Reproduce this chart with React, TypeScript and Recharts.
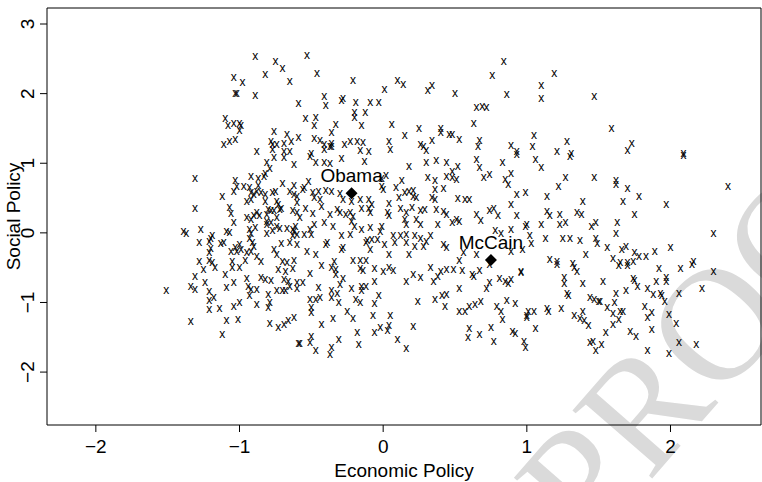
import React from 'react';
import {
  ScatterChart,
  Scatter,
  XAxis,
  YAxis,
  ReferenceArea,
  Label,
} from 'recharts';

const FONT = '"Liberation Sans", Arial, Helvetica, sans-serif';

// respondents as [economic, social]
const northWest: [number, number][] = [
  [-0.89, 2.53], [-0.75, 2.45], [-0.70, 2.35], [-0.82, 2.27], [-1.04, 2.23], [-0.98, 2.15],
  [-0.65, 2.17], [-1.03, 1.99], [-1.02, 1.99], [-0.89, 1.97], [-0.59, 1.85], [-1.10, 1.64],
  [-1.04, 1.56], [-1.08, 1.54], [-1.00, 1.56], [-0.99, 1.54], [-1.00, 1.47], [-1.11, 1.27],
  [-1.07, 1.30], [-1.03, 1.34], [-0.76, 1.45], [-0.67, 1.40], [-0.59, 1.37], [-0.64, 1.30],
  [-0.69, 1.28], [-0.78, 1.31], [-0.77, 1.27], [-0.74, 1.27], [-0.88, 1.17], [-0.77, 1.19],
  [-0.69, 1.17], [-0.65, 1.17],
];

const northCentre: [number, number][] = [
  [-0.53, 2.54], [-0.46, 2.28], [-0.21, 2.19], [0.01, 2.06], [0.10, 2.18], [0.14, 2.13],
  [0.31, 2.04], [0.34, 2.11], [-0.41, 1.95], [-0.40, 1.82], [-0.29, 1.89], [-0.28, 1.93],
  [-0.19, 1.87], [-0.09, 1.87], [-0.03, 1.86], [-0.20, 1.72], [-0.20, 1.65], [-0.125, 1.72],
  [-0.54, 1.64], [-0.47, 1.65], [-0.48, 1.54], [-0.33, 1.55], [-0.36, 1.43], [-0.15, 1.53],
  [0.06, 1.55], [0.25, 1.50], [0.40, 1.50], [0.40, 1.43], [0.15, 1.39], [0.34, 1.32],
  [0.46, 1.40], [-0.48, 1.35], [-0.44, 1.32], [-0.41, 1.26], [-0.36, 1.28], [-0.37, 1.23],
  [-0.41, 1.19], [-0.36, 1.24], [-0.27, 1.26], [-0.23, 1.31], [-0.18, 1.30], [-0.14, 1.29],
  [-0.16, 1.18], [-0.10, 1.17], [0.04, 1.31], [0.05, 1.19], [0.26, 1.26], [0.28, 1.24],
  [0.30, 1.18], [-0.50, 1.14],
];

const northEast: [number, number][] = [
  [0.84, 2.46], [0.76, 2.26], [1.19, 2.29], [1.10, 2.11], [1.10, 1.92], [0.86, 1.98],
  [1.47, 1.96], [0.50, 1.99], [0.65, 1.80], [0.69, 1.81], [0.72, 1.80], [0.63, 1.56],
  [0.48, 1.41], [0.53, 1.34], [0.67, 1.32], [0.66, 1.23], [0.89, 1.25], [0.93, 1.17],
  [1.05, 1.39], [1.04, 1.23], [1.28, 1.31], [1.21, 1.17], [1.31, 1.14],
  [1.59, 1.49], [1.73, 1.28], [1.70, 1.18], [2.09, 1.14],
];

const west: [number, number][] = [
  [-0.81, 1.01], [-0.76, 1.08], [-0.69, 1.07], [-0.62, 0.98], [-0.79, 0.92], [-0.82, 0.84],
  [-1.31, 0.77], [-0.92, 0.81], [-0.87, 0.77], [-0.83, 0.81], [-1.03, 0.75], [-1.02, 0.66],
  [-1.04, 0.59], [-0.97, 0.66], [-0.93, 0.64], [-0.87, 0.68], [-0.88, 0.59], [-0.92, 0.57],
  [-0.90, 0.54], [-0.85, 0.57], [-0.82, 0.55], [-0.77, 0.57], [-0.75, 0.59], [-0.70, 0.70],
  [-0.62, 0.68], [-0.65, 0.59], [-0.62, 0.55], [-0.60, 0.52], [-1.12, 0.51], [-0.95, 0.45],
  [-0.92, 0.47], [-0.74, 0.45], [-0.73, 0.40], [-0.71, 0.35], [-0.72, 0.33], [-0.76, 0.31],
  [-0.82, 0.45], [-0.80, 0.33], [-0.60, 0.43], [-0.63, 0.31], [-0.60, 0.28], [-1.31, 0.35],
  [-1.07, 0.36], [-1.06, 0.27], [-1.04, 0.14], [-0.95, 0.21], [-0.92, 0.19], [-0.90, 0.25],
  [-0.88, 0.28], [-0.86, 0.25], [-0.81, 0.26], [-0.78, 0.32], [-0.74, 0.21], [-0.81, 0.16],
  [-0.78, 0.14], [-0.81, 0.11], [-0.81, -0.02], [-0.77, 0.03], [-0.74, 0.09], [-0.93, 0.04],
  [-0.92, -0.02], [-0.89, 0.07], [-0.93, -0.09], [-1.39, 0.02], [-1.37, -0.01], [-1.27, 0.04],
  [-1.09, 0.02], [-1.07, 0.00], [-1.19, -0.04], [-1.20, -0.08], [-0.72, 0.06], [-0.67, 0.06],
  [-0.63, 0.04], [-0.61, 0.09], [-0.62, 0.01], [-0.60, -0.03], [-0.63, -0.04], [-1.28, -0.15],
  [-1.21, -0.13], [-1.13, -0.16], [-1.11, -0.15], [-1.00, -0.18], [-1.03, -0.22], [-1.06, -0.28],
  [-0.91, -0.15], [-0.90, -0.20], [-0.71, -0.16], [-0.65, -0.15], [-0.60, -0.18], [-0.76, -0.24],
  [-0.74, -0.32], [-1.20, -0.23], [-1.21, -0.29], [-1.28, -0.41], [-1.21, -0.40], [-1.19, -0.43],
  [-1.02, -0.27], [-0.99, -0.24], [-0.95, -0.29], [-0.92, -0.27], [-0.88, -0.34], [-0.85, -0.41],
  [-0.96, -0.40], [-1.05, -0.42], [-0.70, -0.41], [-0.67, -0.43], [-0.62, -0.40],
];

const centre: [number, number][] = [
  [-0.51, 1.09], [-0.47, 1.00], [-0.41, 1.00], [-0.37, 0.99], [-0.29, 1.06], [-0.13, 1.02],
  [0.18, 0.95], [0.30, 1.01], [0.37, 1.03], [0.44, 1.01], [0.02, 0.82], [-0.01, 0.66],
  [-0.01, 0.78], [0.31, 0.79], [0.36, 0.75], [0.44, 0.81], [0.36, 0.62], [0.42, 0.63],
  [0.34, 0.50], [0.36, 0.47], [-0.52, 0.73], [-0.55, 0.65], [-0.56, 0.62], [-0.49, 0.57],
  [-0.45, 0.59], [-0.40, 0.60], [-0.36, 0.59], [-0.30, 0.56], [-0.48, 0.50], [-0.44, 0.47],
  [-0.28, 0.47], [-0.22, 0.45], [-0.16, 0.47], [-0.10, 0.47], [-0.08, 0.40], [0.00, 0.62],
  [0.09, 0.65], [0.13, 0.74], [0.15, 0.57], [0.18, 0.59], [0.21, 0.60], [0.23, 0.50],
  [0.21, 0.51], [0.11, 0.50], [-0.43, 0.38], [-0.54, 0.35], [-0.49, 0.27], [-0.58, 0.21],
  [-0.37, 0.26], [-0.32, 0.33], [-0.30, 0.28], [-0.26, 0.26], [-0.23, 0.28], [-0.21, 0.23],
  [-0.15, 0.35], [-0.10, 0.35], [-0.09, 0.28], [0.04, 0.41], [0.03, 0.28], [0.04, 0.25],
  [0.12, 0.35], [0.16, 0.28], [0.20, 0.36], [0.26, 0.32], [0.29, 0.33], [0.37, 0.33],
  [0.42, 0.30], [0.44, 0.26], [-0.48, 0.11], [-0.41, 0.14], [-0.35, 0.09], [-0.51, 0.04],
  [-0.22, 0.16], [-0.20, 0.09], [-0.15, 0.04], [-0.09, 0.07], [-0.02, 0.02], [-0.01, 0.09],
  [0.15, 0.19], [0.16, 0.11], [0.23, 0.19], [0.26, 0.11], [0.38, 0.11], [0.07, -0.05],
  [0.12, -0.05], [0.16, -0.03], [0.22, -0.05], [0.26, -0.08], [0.30, -0.13], [0.33, -0.05],
  [-0.55, -0.03], [-0.50, -0.03], [-0.40, -0.17], [-0.39, -0.15], [-0.29, -0.05], [-0.28, -0.22],
  [-0.23, -0.03], [-0.12, -0.15], [-0.11, -0.12], [-0.08, -0.10], [-0.04, -0.10], [0.01, -0.17],
  [0.08, -0.15], [0.16, -0.15], [0.22, -0.20], [0.28, -0.20], [0.42, -0.17], [0.44, -0.22],
  [-0.53, -0.27], [-0.47, -0.31], [-0.34, -0.42], [-0.29, -0.25], [-0.21, -0.40], [-0.16, -0.40],
  [-0.12, -0.40], [-0.09, -0.25], [0.04, -0.31], [0.18, -0.31],
];

const east: [number, number][] = [
  [0.65, 1.05], [0.67, 0.94], [0.52, 0.95], [0.48, 0.88], [0.48, 0.79], [0.51, 0.76],
  [0.70, 0.79], [0.74, 0.83], [0.83, 1.00], [0.85, 0.76], [0.89, 0.84], [0.87, 0.69],
  [0.93, 1.12], [1.06, 1.05], [1.10, 0.94], [1.30, 1.09], [1.27, 0.79], [1.22, 0.66],
  [1.47, 0.79], [0.52, 0.49], [0.57, 0.47], [0.60, 0.47], [0.77, 0.35], [0.74, 0.32],
  [0.80, 0.25], [0.89, 0.40], [0.93, 0.55], [0.99, 0.58], [1.14, 0.51], [1.39, 0.44],
  [0.65, 0.26], [0.68, 0.17], [0.51, 0.19], [0.53, 0.16], [0.48, 0.14], [0.93, 0.25],
  [1.00, 0.11], [0.99, 0.09], [1.10, 0.11], [1.14, 0.30], [1.16, 0.25], [1.23, 0.26],
  [1.35, 0.28], [1.38, 0.26], [1.23, 0.11], [1.27, 0.14], [1.45, 0.09], [1.48, 0.14],
  [0.78, 0.03], [0.82, -0.02], [0.89, 0.04], [1.02, -0.05], [1.03, -0.16], [1.13, -0.09],
  [1.25, -0.09], [1.30, -0.08], [1.37, -0.11], [1.48, -0.09], [1.49, -0.16], [0.56, -0.29],
  [0.53, -0.40], [0.65, -0.31], [0.89, -0.27], [0.97, -0.24], [1.16, -0.39], [1.21, -0.42],
  [1.41, -0.32], [1.32, -0.44],
];

const farEast: [number, number][] = [
  [2.09, 1.10], [1.62, 0.74], [1.62, 0.69], [1.70, 0.63], [1.78, 0.52], [1.67, 0.45],
  [1.97, 0.40], [2.40, 0.66], [1.75, 0.26], [1.63, 0.15], [1.62, -0.02], [2.30, -0.02],
  [1.56, -0.22], [1.66, -0.24], [1.69, -0.20], [1.75, -0.29], [1.78, -0.34], [1.83, -0.34],
  [1.89, -0.27], [2.00, -0.21], [1.60, -0.37], [1.65, -0.43], [1.70, -0.43], [1.74, -0.41],
  [2.16, -0.42],
];

const southWest: [number, number][] = [
  [-1.25, -0.53], [-1.17, -0.51], [-1.05, -0.50], [-1.00, -0.51], [-1.10, -0.60], [-1.31, -0.63],
  [-1.24, -0.72], [-1.34, -0.78], [-1.31, -0.82], [-1.09, -0.79], [-1.04, -0.72], [-0.95, -0.66],
  [-0.94, -0.77], [-0.92, -0.82], [-0.88, -0.82], [-0.85, -0.64], [-0.82, -0.67], [-0.78, -0.69],
  [-0.73, -0.53], [-0.68, -0.56], [-0.63, -0.52], [-0.69, -0.67], [-0.66, -0.70], [-0.60, -0.72],
  [-0.74, -0.83], [-0.70, -0.83], [-0.68, -0.83], [-0.65, -0.78], [-0.60, -0.80], [-1.51, -0.83],
  [-1.21, -0.85], [-1.18, -0.94], [-1.21, -0.98], [-1.21, -1.10], [-1.14, -1.09], [-1.04, -1.07],
  [-1.00, -1.01], [-0.93, -0.91], [-0.88, -1.03], [-0.80, -0.89], [-0.79, -1.01], [-0.80, -1.08],
  [-1.34, -1.28], [-1.09, -1.26], [-1.01, -1.25], [-1.12, -1.46], [-0.79, -1.31], [-0.73, -1.36],
  [-0.69, -1.32], [-0.66, -1.27], [-0.62, -1.22], [-0.59, -1.59],
];

const south: [number, number][] = [
  [-0.51, -0.59], [-0.56, -0.72], [-0.43, -0.47], [-0.36, -0.50], [-0.33, -0.53], [-0.33, -0.60],
  [-0.28, -0.66], [-0.30, -0.75], [-0.45, -0.79], [-0.51, -0.96], [-0.47, -0.96], [-0.44, -0.93],
  [-0.50, -1.08], [-0.50, -1.15], [-0.36, -0.84], [-0.36, -0.94], [-0.32, -0.88], [-0.31, -1.01],
  [-0.22, -0.80], [-0.19, -0.96], [-0.16, -1.01], [-0.15, -0.77], [-0.12, -0.77], [-0.15, -0.84],
  [-0.16, -0.52], [-0.14, -0.55], [-0.06, -0.52], [0.00, -0.56], [0.04, -0.50], [0.07, -0.55],
  [-0.06, -0.71], [-0.03, -0.91], [-0.06, -1.02], [0.16, -0.71], [0.21, -0.61], [0.26, -0.64],
  [0.33, -0.51], [0.40, -0.56], [0.44, -0.53], [0.38, -0.63], [0.35, -0.71], [0.24, -0.99],
  [0.36, -0.96], [0.41, -0.91], [0.44, -0.89], [0.43, -1.07], [-0.43, -1.32], [-0.35, -1.24],
  [-0.25, -1.13], [-0.21, -1.24], [-0.07, -1.20], [0.05, -1.20], [-0.50, -1.49], [-0.51, -1.58],
  [-0.47, -1.69], [-0.58, -1.60], [-0.37, -1.76], [-0.36, -1.65], [-0.31, -1.54], [-0.18, -1.44],
  [-0.17, -1.61], [-0.06, -1.44], [-0.02, -1.37], [0.04, -1.34], [0.03, -1.41], [0.10, -1.54],
  [0.16, -1.66], [0.21, -1.35],
];

const southEast: [number, number][] = [
  [0.49, -0.53], [0.55, -0.55], [0.62, -0.60], [0.63, -0.63], [0.67, -0.55], [0.74, -0.46],
  [0.96, -0.56], [0.96, -0.58], [1.21, -0.46], [1.33, -0.51], [1.35, -0.56], [0.53, -0.80],
  [0.72, -0.80], [0.74, -0.72], [0.81, -0.66], [0.85, -0.70], [0.87, -0.74], [0.89, -0.67],
  [1.26, -0.65], [1.26, -0.74], [1.28, -0.87], [1.29, -0.90], [1.39, -0.74], [1.44, -0.94],
  [1.47, -0.96], [1.50, -0.99], [0.53, -1.14], [0.57, -1.13], [0.60, -1.07], [0.64, -1.03],
  [0.68, -0.99], [0.79, -1.06], [0.82, -1.14], [0.83, -1.25], [0.86, -0.98], [0.92, -1.02],
  [1.01, -1.13], [1.00, -1.19], [1.00, -1.22], [1.05, -1.14], [1.14, -1.09], [1.15, -1.13],
  [1.24, -1.09], [1.33, -1.20], [1.37, -1.23], [1.39, -1.14], [1.40, -1.26], [1.43, -1.34],
  [0.60, -1.38], [0.59, -1.51], [0.67, -1.47], [0.75, -1.36], [0.77, -1.57], [0.90, -1.42],
  [0.92, -1.45], [0.98, -1.56], [0.99, -1.65], [1.06, -1.38], [1.44, -1.58], [1.46, -1.56],
  [1.48, -1.69],
];

const farSouthEast: [number, number][] = [
  [1.64, -0.47], [1.70, -0.47], [1.92, -0.52], [2.07, -0.52], [2.15, -0.46], [2.30, -0.56],
  [1.53, -0.70], [1.74, -0.66], [1.75, -0.69], [1.77, -0.77], [1.90, -0.71], [1.97, -0.64],
  [1.97, -0.71], [1.84, -0.80], [1.88, -0.89], [1.93, -0.88], [1.94, -0.90], [1.69, -0.83],
  [1.62, -0.88], [2.06, -0.88], [2.22, -0.80], [1.96, -0.99], [1.51, -0.99], [1.61, -1.01],
  [1.56, -1.08], [1.60, -1.17], [1.65, -1.14], [1.67, -1.13], [1.64, -1.25], [1.60, -1.32],
  [1.55, -1.43], [1.82, -1.07], [1.87, -1.15], [1.84, -1.22], [1.99, -1.18], [2.04, -1.31],
  [1.87, -1.39], [1.72, -1.42], [1.76, -1.49], [1.52, -1.61], [1.84, -1.70], [1.99, -1.74],
  [2.06, -1.58], [2.18, -1.61],
];

const candidateNames = ['Obama', 'McCain'];
const candidateEcon = [-0.22, 0.75];
const candidateSocial = [0.57, -0.39];

const xTicks = [-2, -1, 0, 1, 2];
const yTicks = [-2, -1, 0, 1, 2, 3];
const xDomain: [number, number] = [-2.34, 2.63];
const yDomain: [number, number] = [-2.76, 3.23];

const voters = [
  ...northWest, ...northCentre, ...northEast, ...west, ...centre, ...east,
  ...farEast, ...southWest, ...south, ...southEast, ...farSouthEast,
].map(([econ, social]) => ({ econ, social }));

const candidates = candidateNames.map((name, i) => ({
  name,
  econ: candidateEcon[i],
  social: candidateSocial[i],
}));

const fmt = (v: number) => (v < 0 ? `\u2212${Math.abs(v)}` : `${v}`);

const Cross = (props: any) => (
  <text x={props.cx} y={props.cy + 3.1} textAnchor="middle" fontSize={12} fontFamily={FONT} fill="#000">
    x
  </text>
);

const Candidate = (props: any) => {
  const { cx, cy, payload } = props;
  const r = 6;
  return (
    <g>
      <polygon points={`${cx},${cy - r} ${cx + r},${cy} ${cx},${cy + r} ${cx - r},${cy}`} fill="#000" />
      <text x={cx} y={cy - 11} textAnchor="middle" fontSize={19} fontFamily={FONT} fill="#000">
        {payload.name}
      </text>
    </g>
  );
};

const YTick = (props: any) => {
  const { x, y, payload } = props;
  const bx = x - 4;
  return (
    <text
      x={bx}
      y={y}
      transform={`rotate(-90, ${bx}, ${y})`}
      textAnchor="middle"
      fontSize={19}
      fontFamily={FONT}
      fill="#000"
    >
      {fmt(payload.value)}
    </text>
  );
};

export default function App() {
  return (
    <div style={{ position: 'absolute', left: 0, top: 0, width: 762, height: 482, background: '#fff' }}>
      <svg width={762} height={482} style={{ position: 'absolute', left: 0, top: 0 }}>
        <text
          x={590}
          y={550}
          transform="rotate(-49, 590, 550)"
          fontSize={160}
          fontFamily='"Liberation Serif", "Times New Roman", serif'
          fill="#dadada"
        >
          PROOF
        </text>
      </svg>
      <div style={{ position: 'absolute', left: 0, top: 0 }}>
        <ScatterChart width={762} height={482} margin={{ top: 8, right: 1, bottom: 0, left: 0 }}>
          <XAxis
            type="number"
            dataKey="econ"
            domain={xDomain}
            ticks={xTicks}
            allowDataOverflow
            height={57}
            axisLine={false}
            tickLine={{ stroke: '#000' }}
            tickSize={7}
            tickMargin={8}
            tickFormatter={fmt}
            tick={{ fill: '#000', fontSize: 19, fontFamily: FONT }}
          >
            <Label
              value="Economic Policy"
              position="insideBottom"
              offset={5}
              style={{ fill: '#000', fontSize: 19, fontFamily: FONT }}
            />
          </XAxis>
          <YAxis
            type="number"
            dataKey="social"
            domain={yDomain}
            ticks={yTicks}
            allowDataOverflow
            width={47}
            axisLine={false}
            tickLine={{ stroke: '#000' }}
            tickSize={7}
            tick={<YTick />}
          >
            <Label
              content={(p: any) => {
                const vb = p.viewBox;
                const cx = 20;
                const cy = vb.y + vb.height / 2;
                return (
                  <text
                    x={cx}
                    y={cy}
                    transform={`rotate(-90, ${cx}, ${cy})`}
                    textAnchor="middle"
                    fontSize={19}
                    fontFamily={FONT}
                    fill="#000"
                  >
                    Social Policy
                  </text>
                );
              }}
            />
          </YAxis>
          <ReferenceArea
            x1={xDomain[0]}
            x2={xDomain[1]}
            y1={yDomain[0]}
            y2={yDomain[1]}
            fill="none"
            stroke="#000"
            strokeWidth={1}
            ifOverflow="visible"
          />
          <Scatter data={voters} shape={<Cross />} isAnimationActive={false} />
          <Scatter data={candidates} shape={<Candidate />} isAnimationActive={false} />
        </ScatterChart>
      </div>
    </div>
  );
}
